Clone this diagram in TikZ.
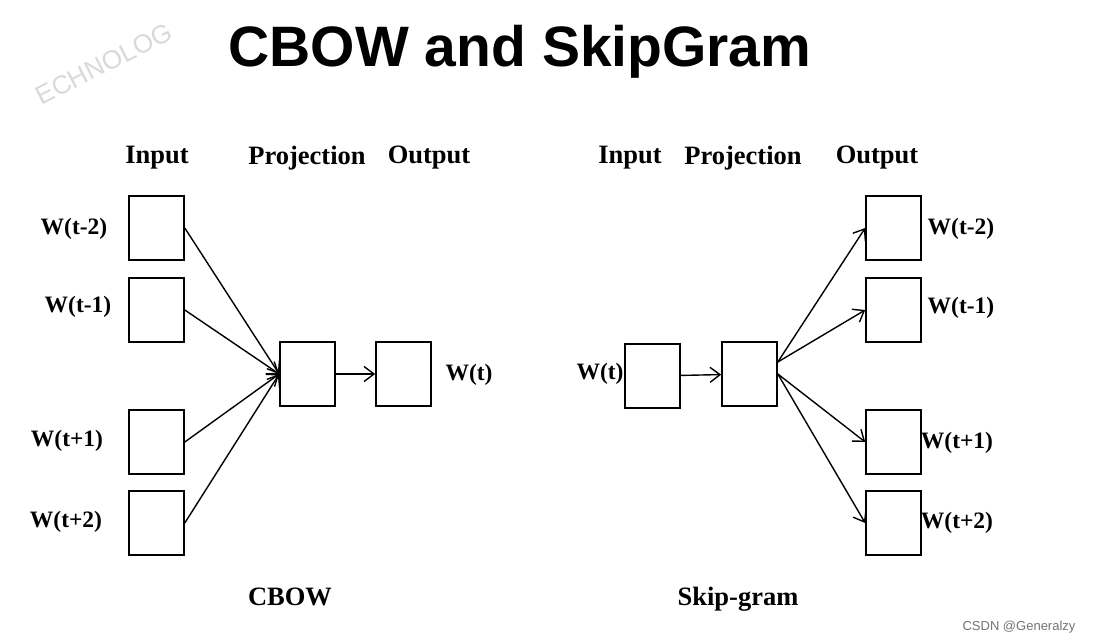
\documentclass[tikz,border=0pt]{standalone}
\usepackage{fontspec}
\setmainfont{Liberation Serif}
\setsansfont{Liberation Sans}
\usetikzlibrary{arrows.meta}

\tikzset{
  box/.style={draw, line width=1.6pt, minimum width=55pt, minimum height=64pt, inner sep=0pt},
  lbl/.style={font=\bfseries\fontsize{23.5}{25}\selectfont, inner sep=0pt},
  head/.style={font=\bfseries\fontsize{26.5}{28}\selectfont, inner sep=0pt},
  arr/.style={line width=1.4pt, -{Straight Barb[length=10pt,width=15pt,line width=1.4pt]}}
}

\begin{document}
\begin{tikzpicture}[x=1pt,y=-1pt]

% Page
\useasboundingbox (0,0) rectangle (1093,644);

% Title and marks
\node[font=\sffamily\bfseries\fontsize{57}{60}\selectfont, inner sep=0pt] (title) at (520,52) {CBOW and SkipGram};
\node[font=\sffamily\fontsize{26}{28}\selectfont, text=black!15, rotate=27, inner sep=0pt] (mark) at (104,64) {ECHNOLOG};
\node[font=\sffamily\fontsize{13}{15}\selectfont, text=black!55, inner sep=0pt] (csdn) at (1019,627) {CSDN @Generalzy};

% ---- CBOW ----
\node[head] (chin) at (157,158) {Input};
\node[head] (chpr) at (307,158) {Projection};
\node[head] (chout) at (429,158) {Output};

\node[box] (ci1) at (156.5,228) {};
\node[box] (ci2) at (156.5,310) {};
\node[box] (ci3) at (156.5,442) {};
\node[box] (ci4) at (156.5,523) {};
\node[box] (cp) at (307.5,374) {};
\node[box] (co) at (403.5,374) {};

\node[lbl] (cl1) at (74,229) {W(t-2)};
\node[lbl] (cl2) at (78,307) {W(t-1)};
\node[lbl] (cl3) at (67,441) {W(t+1)};
\node[lbl] (cl4) at (66,522) {W(t+2)};
\node[lbl] (clo) at (469,375) {W(t)};

\foreach \i in {1,...,4}
  \draw[arr] (ci\i.east) -- (cp.west);
\draw[arr] (cp) -- (co);

\node[head] (cname) at (290,597) {CBOW};

% ---- Skip-gram ----
\node[head] (shin) at (630,158) {Input};
\node[head] (shpr) at (743,158) {Projection};
\node[head] (shout) at (877,158) {Output};

\node[box] (si) at (652.5,376) {};
\node[box] (sp) at (749.5,374) {};
\node[box] (so1) at (893.5,228) {};
\node[box] (so2) at (893.5,310) {};
\node[box] (so3) at (893.5,442) {};
\node[box] (so4) at (893.5,523) {};

\node[lbl] (sli) at (600,374) {W(t)};
\node[lbl] (sl1) at (961,229) {W(t-2)};
\node[lbl] (sl2) at (961,308) {W(t-1)};
\node[lbl] (sl3) at (957,443) {W(t+1)};
\node[lbl] (sl4) at (957,523) {W(t+2)};

\draw[arr] (si) -- (sp);
\draw[arr] ([yshift=12pt]sp.east) -- (so1.west);
\draw[arr] ([yshift=12pt]sp.east) -- (so2.west);
\draw[arr] (sp.east) -- (so3.west);
\draw[arr] (sp.east) -- (so4.west);

\node[head] (sname) at (738,599) {Skip-gram};

\end{tikzpicture}
\end{document}
